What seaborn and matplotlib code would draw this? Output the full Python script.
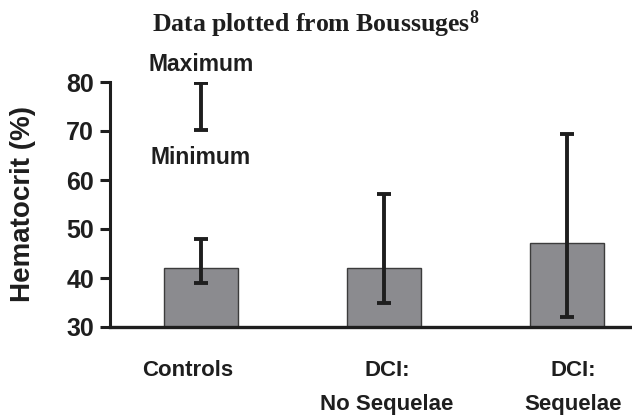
import matplotlib
matplotlib.use("Agg")
import matplotlib.pyplot as plt
import matplotlib.transforms as mtransforms
import seaborn as sns
import pandas as pd
import numpy as np

categories = ["Controls", "DCI:\nNo Sequelae", "DCI:\nSequelae"]
means = [42.1, 42.0, 47.2]
minimum = [38.9, 34.8, 32.0]
maximum = [48.0, 57.1, 69.3]
legend_min = 70.3
legend_max = 79.7
yticks = [30, 40, 50, 60, 70, 80]

sns.set_theme(style="white")
plt.rcParams['font.family'] = ['Liberation Sans', 'DejaVu Sans']
plt.rcParams['mathtext.fontset'] = 'custom'
plt.rcParams['mathtext.rm'] = 'Liberation Serif:bold'
plt.rcParams['mathtext.it'] = 'Liberation Serif:bold'
plt.rcParams['mathtext.bf'] = 'Liberation Serif:bold'

INK = "#1e1e1e"
df = pd.DataFrame({"group": categories, "hct": means})

W, H = 632, 417
fig = plt.figure(figsize=(W / 100, H / 100), dpi=100)
ax = fig.add_axes([110 / W, 1 - 327 / H, 1 - 110 / W, (327 - 82) / H])

sns.barplot(data=df, x="group", y="hct", color="#8b8b8f", saturation=1,
            width=0.404, edgecolor="#3c3c3c", linewidth=1.0, ax=ax, errorbar=None)

x = np.arange(len(categories))
m = np.array(means)
lo = m - np.array(minimum)
hi = np.array(maximum) - m
ax.errorbar(x, m, yerr=[lo, hi], fmt="none", ecolor=INK,
            elinewidth=2.8, capsize=4.7, capthick=2.8, zorder=5)

# legend key error bar
mid = (legend_min + legend_max) / 2
ax.errorbar([0], [mid], yerr=[[mid - legend_min], [legend_max - mid]], fmt="none",
            ecolor=INK, elinewidth=2.8, capsize=4.7, capthick=2.8, zorder=5)
ax.text(0, 82.2, "Maximum", ha="center", va="baseline", fontsize=16.5,
        fontweight="bold", color=INK, clip_on=False)
ax.text(0, 63.3, "Minimum", ha="center", va="baseline", fontsize=16.5,
        fontweight="bold", color=INK, clip_on=False)

ax.set_ylim(30, 80)
ax.set_xlim(-0.497, 2.355)
ax.set_yticks(yticks)
ax.set_yticklabels([str(t) for t in yticks], fontsize=18, fontweight="bold", color=INK)
ax.set_xticks(x)
ax.set_xticklabels(categories, fontsize=16, fontweight="bold", color=INK, linespacing=1.8)
ax.tick_params(axis="y", direction="out", length=7.5, width=2.2, color=INK, pad=4, left=True)
ax.tick_params(axis="x", length=0, pad=24)
label_shift_px = [-13, 3, 6]
for lab, dx in zip(ax.get_xticklabels(), label_shift_px):
    lab.set_transform(lab.get_transform() + mtransforms.ScaledTranslation(dx / 100, 0, fig.dpi_scale_trans))
ax.set_xlabel("")
ax.set_ylabel("Hematocrit (%)", fontsize=20, fontweight="bold", color=INK)
ax.yaxis.set_label_coords(-74 / (W - 110), 0.5)

for s in ["top", "right"]:
    ax.spines[s].set_visible(False)
ax.spines["left"].set_linewidth(2.2)
ax.spines["left"].set_color(INK)
ax.spines["bottom"].set_linewidth(2.4)
ax.spines["bottom"].set_color(INK)

fig.text(316 / W, 1 - 31.5 / H, "Data plotted from Boussuges$^{8}$", ha="center", va="baseline",
         fontsize=18.5, fontweight="bold", family=["Liberation Serif", "DejaVu Serif"], color=INK)

fig.savefig("out.png", dpi=100)
